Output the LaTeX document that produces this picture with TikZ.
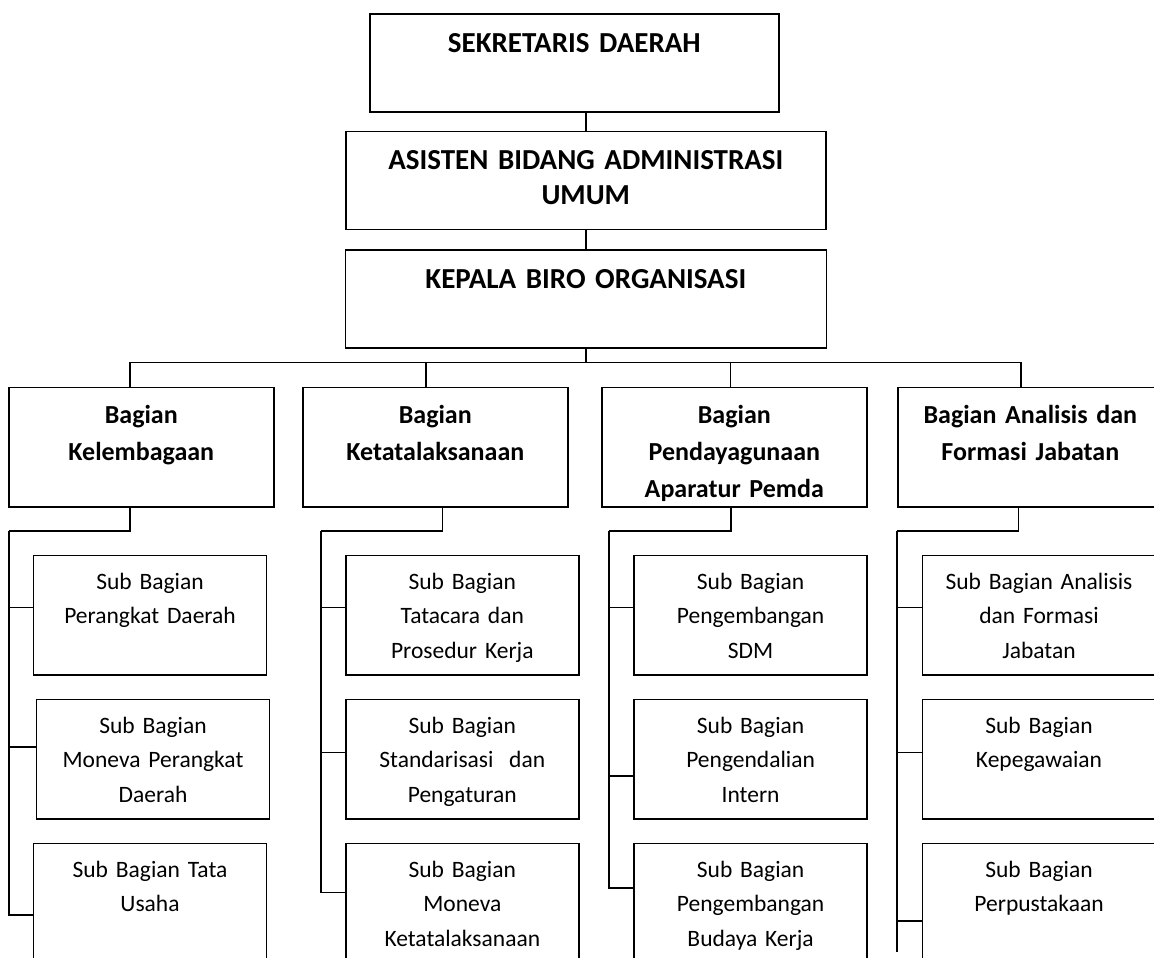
\documentclass[tikz,border=0pt]{standalone}
\usepackage{fontspec}
\setmainfont{Carlito}
\usepackage{xcolor}
\usepackage{tikz}

\tikzset{
	topbox/.style={draw, anchor=north west, inner sep=0pt, align=center, font=\bfseries\fontsize{29}{35}\selectfont, text height=38.5pt, text depth=59.5pt, text width=#1},
	bagbox/.style={draw, anchor=north west, inner sep=0pt, align=center, font=\bfseries\fontsize{26}{37}\selectfont, text height=36pt, text depth=83.6pt, text width=265pt},
	subbox/.style={draw, anchor=north west, inner sep=0pt, align=center, font=\fontsize{23.5}{34.5}\selectfont, text height=33.5pt, text depth=86pt, text width=233pt}
}

\begin{document}
\begin{tikzpicture}[line width=1.6pt]
	\useasboundingbox (0pt, 0pt) rectangle (1154pt, -958pt);
	\clip (0pt, 0pt) rectangle (1154pt, -958pt);

	% pimpinan
	\node[topbox=409pt] (sek) at (369pt, -13pt) {SEKRETARIS DAERAH};
	\node[topbox=480pt] (asi) at (345pt, -130.5pt) {ASISTEN BIDANG ADMINISTRASI\\UMUM};
	\node[topbox=481pt] (kep) at (344.5pt, -249pt) {KEPALA BIRO ORGANISASI};
	\draw (asi.north) -- (asi.north |- sek.south);
	\draw (asi.south) -- (kep.north);

	% bagian
	\node[bagbox] (kel) at (8pt, -386.7pt) {Bagian\\Kelembagaan};
	\node[bagbox] (ket) at (302pt, -386.7pt) {Bagian\\Ketatalaksanaan};
	\node[bagbox] (pen) at (601pt, -386.7pt) {Bagian\\Pendayagunaan\\Aparatur Pemda};
	\node[bagbox] (ana) at (897pt, -386.7pt) {Bagian Analisis dan\\Formasi Jabatan};
	\draw (kep.south) -- ++(0pt, -13.7pt) coordinate (bar);
	\draw (bar) -| ([xshift=-11.5pt]kel.north);
	\draw (bar) -| ([xshift=-9.5pt]ket.north);
	\draw (bar) -| ([xshift=-4pt]pen.north);
	\draw (bar) -| ([xshift=-9.5pt]ana.north);

	% sub bagian kelembagaan
	\node[subbox] (kel-a) at (32.7pt, -554.7pt) {Sub Bagian\\Perangkat Daerah};
	\node[subbox] (kel-b) at (35.7pt, -698.7pt) {Sub Bagian\\Moneva Perangkat\\Daerah};
	\node[subbox] (kel-c) at (32.7pt, -842.7pt) {Sub Bagian Tata\\Usaha};
	\coordinate (kel-e) at (9pt, -530.7pt);
	\draw ([xshift=-11.5pt]kel.south) |- (kel-e);
	\draw ([yshift=7.75pt]kel-a.west) -| (kel-e);
	\draw ([yshift=12.45pt]kel-b.west) -| (kel-e);
	\draw ([yshift=-11.85pt]kel-c.west) -| (kel-e);

	% sub bagian ketatalaksanaan
	\node[subbox] (ket-a) at (345pt, -554.7pt) {Sub Bagian\\Tatacara dan\\Prosedur Kerja};
	\node[subbox] (ket-b) at (345pt, -698.7pt) {Sub Bagian\\Standarisasi~ dan\\Pengaturan};
	\node[subbox] (ket-c) at (345pt, -842.7pt) {Sub Bagian\\Moneva\\Ketatalaksanaan};
	\coordinate (ket-e) at (321pt, -530.7pt);
	\draw ([xshift=7pt]ket.south) |- (ket-e);
	\draw ([yshift=7.75pt]ket-a.west) -| (ket-e);
	\draw ([yshift=6.75pt]ket-b.west) -| (ket-e);
	\draw ([yshift=10.75pt]ket-c.west) -| (ket-e);

	% sub bagian pendayagunaan
	\node[subbox] (pen-a) at (633.3pt, -554.7pt) {Sub Bagian\\Pengembangan\\SDM};
	\node[subbox] (pen-b) at (633.3pt, -698.7pt) {Sub Bagian\\Pengendalian\\Intern};
	\node[subbox] (pen-c) at (633.3pt, -842.7pt) {Sub Bagian\\Pengembangan\\Budaya Kerja};
	\coordinate (pen-e) at (609pt, -530.7pt);
	\draw ([xshift=-3.5pt]pen.south) |- (pen-e);
	\draw ([yshift=7.75pt]pen-a.west) -| (pen-e);
	\draw ([yshift=-16.85pt]pen-b.west) -| (pen-e);
	\draw ([yshift=15.15pt]pen-c.west) -| (pen-e);

	% sub bagian analisis
	\node[subbox] (ana-a) at (921.7pt, -554.7pt) {Sub Bagian Analisis\\dan Formasi\\Jabatan};
	\node[subbox] (ana-b) at (921.7pt, -698.7pt) {Sub Bagian\\Kepegawaian};
	\node[subbox] (ana-c) at (921.7pt, -842.7pt) {Sub Bagian\\Perpustakaan};
	\coordinate (ana-e) at (896.7pt, -530.7pt);
	\coordinate (ana-f) at (896.7pt, -951.7pt);
	\draw ([xshift=-12pt]ana.south) |- (ana-e);
	\draw (ana-e) -- (ana-f);
	\draw ([yshift=7.75pt]ana-a.west) -| (ana-e);
	\draw ([yshift=6.75pt]ana-b.west) -| (ana-e);
	\draw ([yshift=-17.55pt]ana-c.west) -| (ana-e);
\end{tikzpicture}
\end{document}
